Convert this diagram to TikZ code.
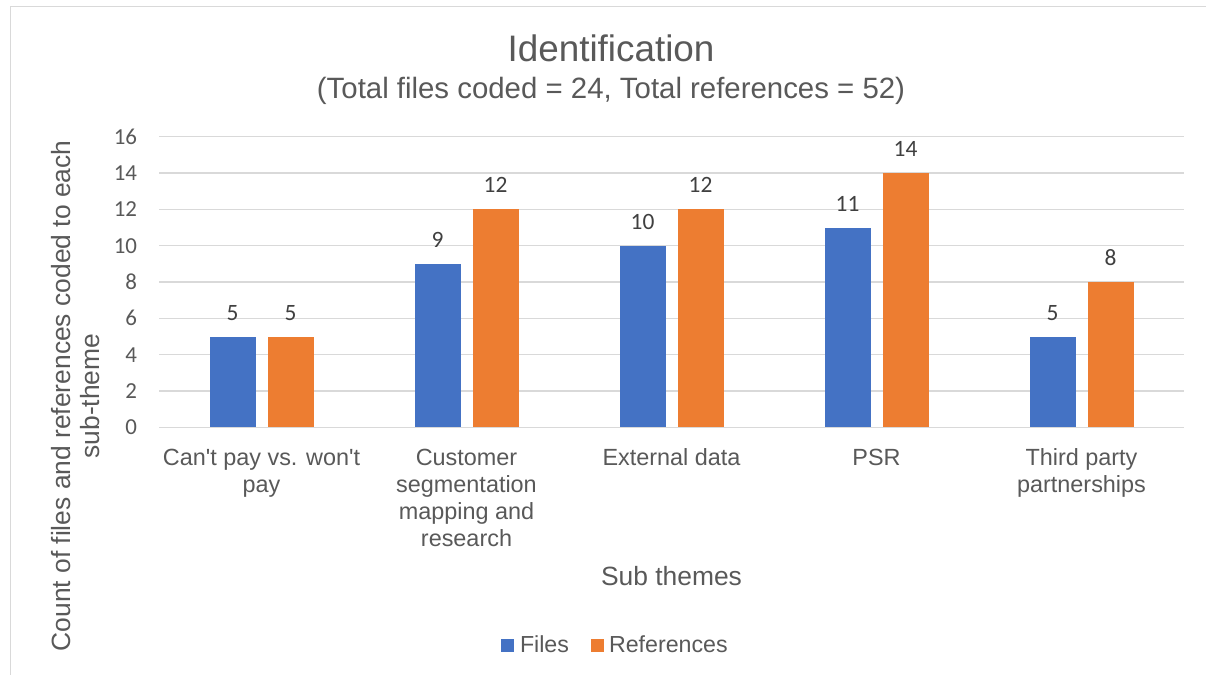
\documentclass[tikz,border=0pt]{standalone}
\usepackage{fontspec}
\setmainfont{Liberation Sans}
\newfontfamily\calfont{Carlito}
\definecolor{txt}{HTML}{595959}
\definecolor{dlab}{HTML}{404040}
\definecolor{gridc}{HTML}{D9D9D9}
\definecolor{bluebar}{HTML}{4472C4}
\definecolor{orangebar}{HTML}{ED7D31}
\setlength{\tabcolsep}{0pt}
\begin{document}
\begin{tikzpicture}[x=1bp,y=-1bp,
  every node/.style={inner sep=0pt, outer sep=0pt, text=txt},
  gridline/.style={draw=gridc, line width=1.2bp},
  ticklab/.style={anchor=east, font=\calfont\fontsize{23}{27}\selectfont},
  datalab/.style={anchor=base, text=dlab, font=\calfont\fontsize{23.5}{27}\selectfont},
  catlab/.style={anchor=base, font=\fontsize{23.5}{27.3}\selectfont},
  axtitle/.style={anchor=base, font=\fontsize{26.5}{30}\selectfont},
  legtext/.style={anchor=base west, font=\fontsize{23.3}{27}\selectfont},
  legsq/.style={minimum size=13bp, anchor=north west}
]
\useasboundingbox (0,0) rectangle (1206,675);
\fill[white] (0,0) rectangle (1206,675);
\draw[gridc, line width=1bp] (10,675) -- (10,7) -- (1206,7);
% title
\node[anchor=base, font=\fontsize{37}{44}\selectfont] (title) at (611,62) {Identification};
\node[anchor=base, font=\fontsize{29.5}{35}\selectfont] (subtitle) at (611,99) {(Total files coded = 24, Total references = 52)};
% grid and ticks
\foreach \v in {0,2,...,16} {
  \pgfmathsetmacro\yy{427.3-18.16*\v}
  \coordinate (gl\v) at (159,\yy);
  \coordinate (gr\v) at (1184,\yy);
  \draw[gridline] (gl\v) -- (gr\v);
  \node[ticklab] (tick\v) at (137,\yy) {\v};
}
% bars
\foreach \i/\f/\r in {0/5/5,1/9/12,2/10/12,3/11/14,4/5/8} {
  \pgfmathsetmacro\c{261.5+205*\i}
  \pgfmathsetmacro\yf{427.3-18.16*\f}
  \pgfmathsetmacro\yr{427.3-18.16*\r}
  \fill[bluebar] (\c-52,427.3) rectangle (\c-6,\yf);
  \fill[orangebar] (\c+6,427.3) rectangle (\c+52,\yr);
  \node[datalab] (fl\i) at (\c-29,\yf-16.5) {\f};
  \node[datalab] (rl\i) at (\c+29,\yr-16.5) {\r};
}
% category labels
\node[catlab] (cat0) at (261.5,465) {\begin{tabular}[t]{c}Can\textquotesingle t pay vs. won\textquotesingle t\\pay\end{tabular}};
\node[catlab] (cat1) at (466.5,465) {\begin{tabular}[t]{c}Customer\\segmentation\\mapping and\\research\end{tabular}};
\node[catlab] (cat2) at (671.5,465) {External data};
\node[catlab] (cat3) at (876.5,465) {PSR};
\node[catlab] (cat4) at (1081.5,465) {\begin{tabular}[t]{c}Third party\\partnerships\end{tabular}};
% axis titles
\node[axtitle] (xtitle) at (671.5,585) {Sub themes};
\node[axtitle, rotate=90] (ytitle) at (70,396) {\begin{tabular}[t]{c}Count of files and references coded to each\\sub-theme\end{tabular}};
% legend
\node[legsq, fill=bluebar] (sqf) at (501,639) {};
\node[legtext] (legf) at (520,652) {Files};
\node[legsq, fill=orangebar] (sqr) at (591,639) {};
\node[legtext] (legr) at (609,652) {References};
\end{tikzpicture}
\end{document}
